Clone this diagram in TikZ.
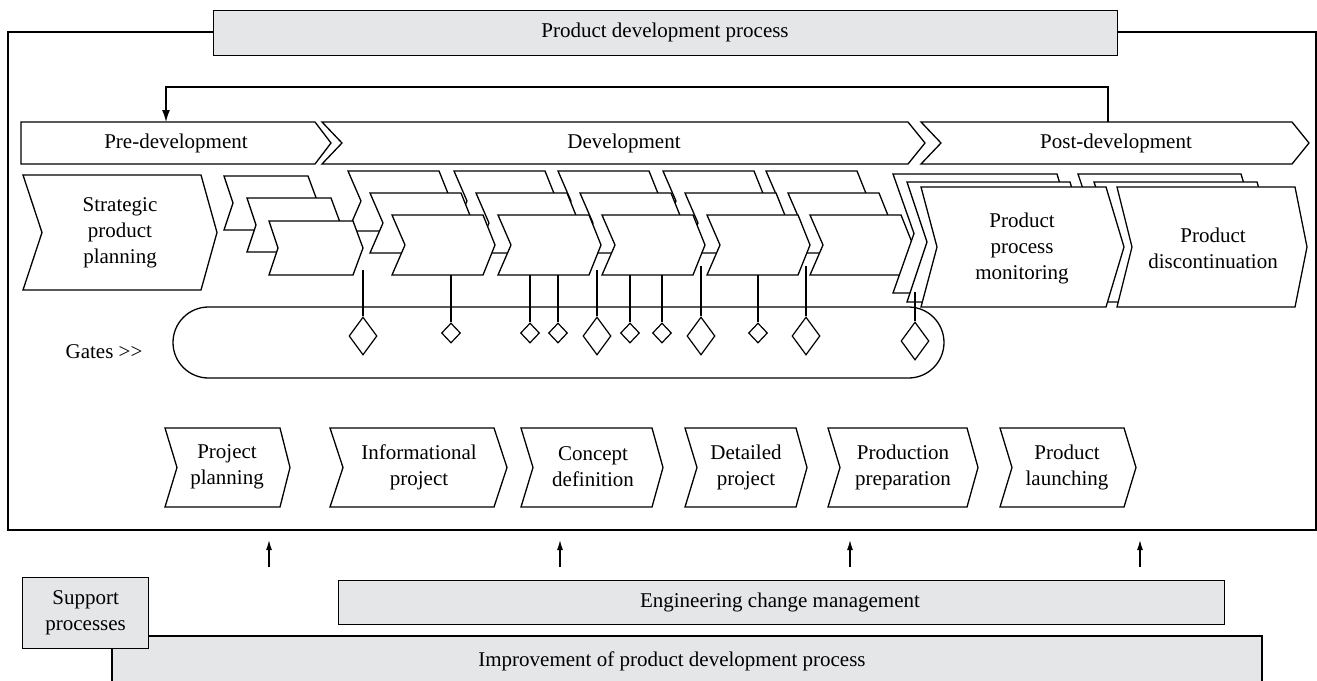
\documentclass[tikz,border=0pt]{standalone}
\usepackage{fontspec}
\setmainfont{Liberation Serif}
\usetikzlibrary{shapes.geometric,arrows.meta}
\definecolor{boxgrey}{RGB}{229,230,232}

% chevron: [style] x, y (top-left), body width, height, tip depth, notch depth
\newcommand{\chevpath}[7][]{%
  \path[shp,#1] (#2,#3) -- ({#2+#4},#3) -- ({#2+#4+#6},{#3+#5/2})
    -- ({#2+#4},{#3+#5}) -- (#2,{#3+#5}) -- ({#2+#7},{#3+#5/2}) -- cycle;}

\tikzset{
  shp/.style={draw=black, fill=white, line width=1.3pt, line join=miter},
  lbl/.style={font=\fontsize{21}{26}\selectfont, align=center, inner sep=0pt},
  gbox/.style={draw=black, fill=boxgrey, line width=1.3pt},
  gate/.style={diamond, draw=black, fill=white, line width=1.2pt, inner sep=0pt},
  smallgate/.style={gate, minimum width=19pt, minimum height=20pt},
  biggate/.style={gate, minimum width=28pt, minimum height=38pt},
  stem/.style={line width=1.2pt},
  uparrow/.style={line width=1.2pt, -{Latex[length=10pt,width=6pt]}},
}

\begin{document}
\begin{tikzpicture}[x=1pt,y=-1pt]
\useasboundingbox[fill=white] (0,0) rectangle (1317,680);

% outer frame and title
\draw[line width=1.6pt] (8,32) rectangle (1316,530);
\node[gbox, minimum width=904pt, minimum height=45pt, anchor=north west, inner sep=0pt] (title) at (213,10) {};
\node[lbl] (titletxt) at (665,32.5) {Product development process};

% feedback loop from post-development back to pre-development
\coordinate (fbstart) at (1108,122);
\coordinate (fbend) at (166,122);
\draw[line width=1.3pt, -{Latex[length=12pt,width=8pt]}] (fbstart) -- (1108,87) -- (166,87) -- (fbend);

% phase bar
\chevpath{21}{122}{294}{42}{16}{0}
\chevpath{322}{122}{586}{42}{17}{20}
\chevpath{921}{122}{371}{42}{17}{20}
\node[lbl] (pre) at (176,143) {Pre-development};
\node[lbl] (dev) at (624,143) {Development};
\node[lbl] (post) at (1116,143) {Post-development};

% strategic planning
\chevpath{23}{175}{178}{115}{16}{19}
\node[lbl] (spp) at (120,233) {Strategic\\product\\planning};

% stacked phase chevrons, drawn row by row
\chevpath{224}{176}{84}{54}{10}{9}
\foreach \xx in {392,498,602,707,810} {\chevpath{\xx-44}{171}{91}{60}{12}{13}}
\chevpath{247}{198}{84}{54}{10}{9}
\foreach \xx in {392,498,602,707,810} {\chevpath{\xx-22}{193}{91}{60}{12}{13}}
\chevpath{269}{221}{84}{54}{10}{9}
\foreach \xx in {392,498,602,707,810} {\chevpath{\xx}{215}{91}{60}{12}{13}}

% post-development stacks
\chevpath{893}{174}{164}{119}{18}{21}
\chevpath{1078}{174}{163}{119}{18}{20}
\chevpath{907}{182}{163}{120}{18}{20}
\chevpath{1094}{182}{163}{120}{18}{20}
\chevpath{921}{187}{185}{120}{18}{16}
\chevpath{1117}{187}{178}{120}{12}{15}
\node[lbl] (ppm) at (1022,248) {Product\\process\\monitoring};
\node[lbl] (pdis) at (1213,248) {Product\\discontinuation};

% gates
\draw[line width=1.3pt, rounded corners=35.5pt] (173,307) rectangle (944,378);
\node[lbl] (gates) at (104,352) {Gates >{}>};

\node[biggate]   (g1)  at (363,336) {};
\node[smallgate] (g2)  at (451,333) {};
\node[smallgate] (g3)  at (530,333) {};
\node[smallgate] (g4)  at (558,333) {};
\node[biggate]   (g5)  at (597,336) {};
\node[smallgate] (g6)  at (630,333) {};
\node[smallgate] (g7)  at (662,333) {};
\node[biggate]   (g8)  at (701,336) {};
\node[smallgate] (g9)  at (758,333) {};
\node[biggate]   (g10) at (806,336) {};
\node[biggate]   (g11) at (915,341) {};

\coordinate (s1) at (363,270);
\coordinate (s2) at (451,275);
\coordinate (s3) at (530,275);
\coordinate (s4) at (558,275);
\coordinate (s5) at (597,270);
\coordinate (s6) at (630,275);
\coordinate (s7) at (662,275);
\coordinate (s8) at (701,266);
\coordinate (s9) at (758,275);
\coordinate (s10) at (806,266);
\coordinate (s11) at (915,292);
\foreach \i in {1,...,11} {\draw[stem] (s\i) -- (g\i.north);}

% detailed phases
\chevpath{165}{428}{115}{79}{10}{12}
\chevpath{330}{428}{164}{79}{13}{13}
\chevpath{521}{428}{131}{79}{11}{12}
\chevpath{685}{428}{111}{79}{11}{12}
\chevpath{828}{428}{139}{79}{11}{12}
\chevpath{1000}{428}{124}{79}{12}{12}
\node[lbl] (pp)  at (227,467) {Project\\planning};
\node[lbl] (ip)  at (419,467) {Informational\\project};
\node[lbl] (cd)  at (593,467) {Concept\\definition};
\node[lbl] (dp)  at (746,467) {Detailed\\project};
\node[lbl] (prp) at (903,467) {Production\\preparation};
\node[lbl] (pl)  at (1067,467) {Product\\launching};

% support processes
\path[gbox] (112,690) |- (1262,636) -- (1262,690);
\node[lbl] (impr) at (672,661) {Improvement of product development process};
\node[gbox, minimum width=886pt, minimum height=44pt, anchor=north west, inner sep=0pt] (ecm) at (338,580) {};
\node[lbl] (ecmtxt) at (780,602) {Engineering change management};
\node[gbox, minimum width=126pt, minimum height=71pt, anchor=north west, inner sep=0pt] (sup) at (22,577) {};
\node[lbl] (suptxt) at (sup.center) {Support\\processes};

% support flows into the process
\foreach \xx [count=\k] in {269,560,850,1140} {
  \coordinate (a\k) at (\xx,567);
  \coordinate (b\k) at (\xx,540);
  \draw[uparrow] (a\k) -- (b\k);
}
\end{tikzpicture}
\end{document}
